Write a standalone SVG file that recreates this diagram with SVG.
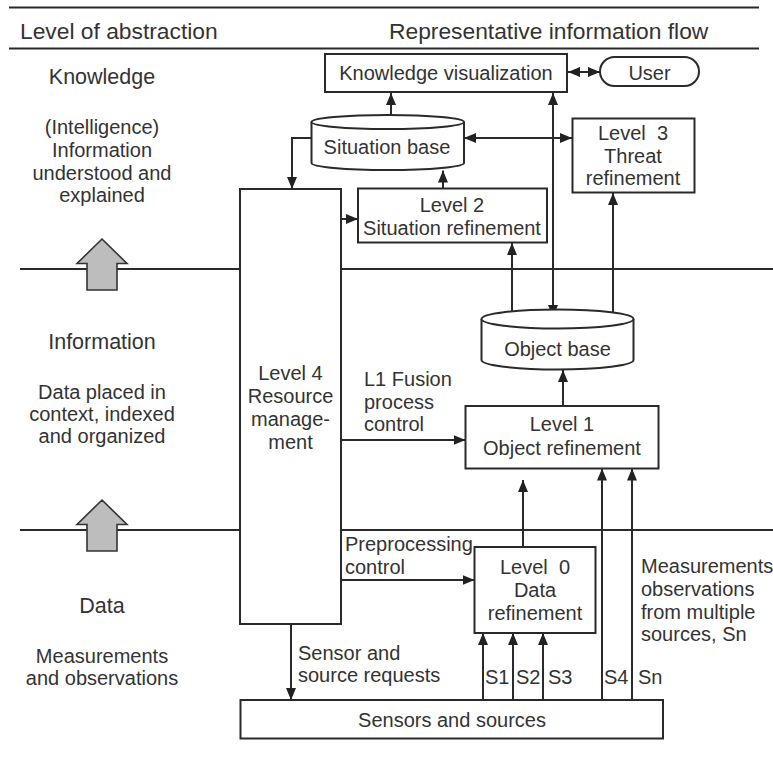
<svg xmlns="http://www.w3.org/2000/svg" width="773" height="778" viewBox="0 0 773 778">
<style>
text{font-family:"Liberation Sans",Arial,sans-serif;font-size:20px;fill:#333;white-space:pre}
.h{font-size:22.8px}
.t{font-size:21.5px}
.c{text-anchor:middle}
.ln{stroke:#2a2a2a;stroke-width:2;fill:none}
.bx{stroke:#2a2a2a;stroke-width:2;fill:#fff}
.ga{fill:#bdbdbd;stroke:#333;stroke-width:1.6;stroke-linejoin:miter}
</style>
<defs>
<marker id="ah" viewBox="0 0 12 10" refX="12" refY="5" markerWidth="12" markerHeight="10" markerUnits="userSpaceOnUse" orient="auto-start-reverse">
<path d="M0,0 L12,5 L0,10 Z" fill="#222"/>
</marker>
</defs>
<rect width="773" height="778" fill="#fff"/>

<g id="header">
<line class="ln" x1="9" y1="7.5" x2="759" y2="7.5"/>
<line class="ln" x1="9" y1="48.5" x2="759" y2="48.5"/>
<text class="h" x="20" y="38.5">Level of abstraction</text>
<text class="h" x="389" y="38.5">Representative information flow</text>
</g>

<g id="separators">
<line class="ln" x1="20" y1="269" x2="240" y2="269"/>
<line class="ln" x1="341" y1="269" x2="773" y2="269"/>
<line class="ln" x1="20" y1="530" x2="240" y2="530"/>
<line class="ln" x1="341" y1="530" x2="773" y2="530"/>
<polygon class="ga" points="102,239 127,263.5 117,263.5 117,290 87,290 87,263.5 77,263.5"/>
<polygon class="ga" points="102,500 127,524.5 117,524.5 117,551 87,551 87,524.5 77,524.5"/>
</g>

<g id="levels-text">
<text class="t c" x="102" y="84">Knowledge</text>
<text class="c" x="102" y="134">(Intelligence)</text>
<text class="c" x="102" y="157">Information</text>
<text class="c" x="102" y="179.5">understood and</text>
<text class="c" x="102" y="201.5">explained</text>
<text class="t c" x="102" y="349">Information</text>
<text class="c" x="102" y="398.5">Data placed in</text>
<text class="c" x="102" y="421">context, indexed</text>
<text class="c" x="102" y="443">and organized</text>
<text class="t c" x="102" y="612.5">Data</text>
<text class="c" x="102" y="663">Measurements</text>
<text class="c" x="102" y="685">and observations</text>
</g>

<g id="connectors">
<line class="ln" x1="391" y1="116" x2="391" y2="93" marker-end="url(#ah)"/>
<line class="ln" x1="553" y1="93" x2="553" y2="317" marker-start="url(#ah)" marker-end="url(#ah)"/>
<line class="ln" x1="568" y1="72" x2="600" y2="72" marker-start="url(#ah)" marker-end="url(#ah)"/>
<line class="ln" x1="464" y1="138" x2="572" y2="138" marker-start="url(#ah)" marker-end="url(#ah)"/>
<polyline class="ln" points="311.5,138 292,138 292,189" marker-end="url(#ah)"/>
<line class="ln" x1="341" y1="219" x2="358" y2="219" marker-end="url(#ah)"/>
<line class="ln" x1="443" y1="188" x2="443" y2="170.5" marker-end="url(#ah)"/>
<line class="ln" x1="512" y1="318" x2="512" y2="243" marker-end="url(#ah)"/>
<line class="ln" x1="613" y1="318" x2="613" y2="193" marker-end="url(#ah)"/>
<line class="ln" x1="563" y1="406" x2="563" y2="370" marker-end="url(#ah)"/>
<line class="ln" x1="341" y1="440" x2="465.5" y2="440" marker-end="url(#ah)"/>
<line class="ln" x1="523" y1="547" x2="523" y2="480" marker-end="url(#ah)"/>
<line class="ln" x1="341" y1="580" x2="474.5" y2="580" marker-end="url(#ah)"/>
<line class="ln" x1="291" y1="624" x2="291" y2="700" marker-end="url(#ah)"/>
<line class="ln" x1="483" y1="700" x2="483" y2="633" marker-end="url(#ah)"/>
<line class="ln" x1="513" y1="700" x2="513" y2="633" marker-end="url(#ah)"/>
<line class="ln" x1="543" y1="700" x2="543" y2="633" marker-end="url(#ah)"/>
<line class="ln" x1="602" y1="700" x2="602" y2="468.5" marker-end="url(#ah)"/>
<line class="ln" x1="632" y1="700" x2="632" y2="468.5" marker-end="url(#ah)"/>
</g>

<g id="labels">
<text x="364" y="386">L1 Fusion</text>
<text x="364" y="408.5">process</text>
<text x="364" y="431">control</text>
<text x="345" y="551">Preprocessing</text>
<text x="345" y="573.5">control</text>
<text x="298" y="659.5">Sensor and</text>
<text x="298" y="682">source requests</text>
<text x="485" y="684">S1</text>
<text x="516" y="684">S2</text>
<text x="548" y="684">S3</text>
<text x="604" y="684">S4</text>
<text x="638" y="684">Sn</text>
<text x="641" y="573">Measurements</text>
<text x="641" y="596">observations</text>
<text x="641" y="618.5">from multiple</text>
<text x="641" y="641">sources, Sn</text>
</g>

<g id="knowledge-visualization">
<rect class="bx" x="325" y="54" width="242" height="38"/>
<text class="c" x="446" y="79.5">Knowledge visualization</text>
</g>

<g id="user">
<rect class="bx" x="600" y="57" width="99" height="29" rx="14.5"/>
<text class="c" x="649.5" y="79.5">User</text>
</g>

<g id="situation-base">
<path class="bx" d="M311.5,122 L311.5,163 A76.25,7 0 0 0 464,163 L464,122"/>
<ellipse class="bx" cx="387.75" cy="122" rx="76.25" ry="7"/>
<text class="c" x="387" y="154">Situation base</text>
</g>

<g id="level3">
<rect class="bx" x="572.5" y="118.5" width="122" height="74"/>
<text class="c" x="633" y="140">Level  3</text>
<text class="c" x="633" y="163">Threat</text>
<text class="c" x="633" y="185">refinement</text>
</g>

<g id="level4">
<rect class="bx" x="240" y="189" width="101" height="435"/>
<text class="c" x="290.5" y="380">Level 4</text>
<text class="c" x="290.5" y="403">Resource</text>
<text class="c" x="290.5" y="426">manage-</text>
<text class="c" x="290.5" y="449">ment</text>
</g>

<g id="level2">
<rect class="bx" x="358" y="188.5" width="189" height="54"/>
<text class="c" x="452" y="212">Level 2</text>
<text class="c" x="452" y="235">Situation refinement</text>
</g>

<g id="object-base">
<path class="bx" d="M481.5,319 L481.5,360 A76,9.5 0 0 0 633.5,360 L633.5,319"/>
<ellipse class="bx" cx="557.5" cy="319" rx="76" ry="9.5"/>
<text class="c" x="557.5" y="356">Object base</text>
</g>

<g id="level1">
<rect class="bx" x="465.5" y="406" width="193" height="62.5"/>
<text class="c" x="562" y="431">Level 1</text>
<text class="c" x="562" y="455">Object refinement</text>
</g>

<g id="level0">
<rect class="bx" x="474.5" y="547" width="121" height="86"/>
<text class="c" x="535" y="574">Level  0</text>
<text class="c" x="535" y="597">Data</text>
<text class="c" x="535" y="619.5">refinement</text>
</g>

<g id="sensors">
<rect class="bx" x="240.5" y="700" width="422.5" height="38.5"/>
<text class="c" x="452" y="727">Sensors and sources</text>
</g>
</svg>
